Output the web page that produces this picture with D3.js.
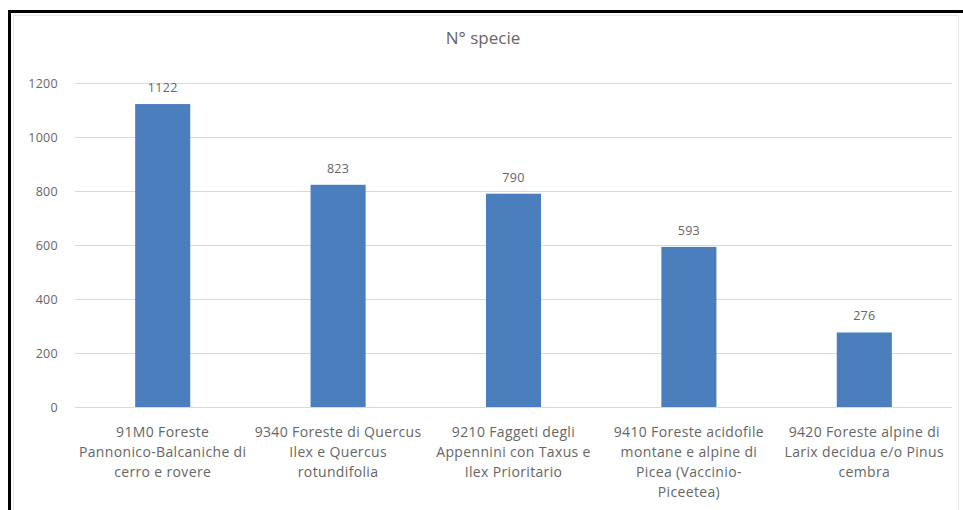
<!DOCTYPE html>
<html>
<head>
<meta charset="utf-8">
<script src="https://cdn.jsdelivr.net/npm/d3@7"></script>
<style>
  html, body { margin: 0; padding: 0; background: #fff; }
  svg { display: block; }
</style>
</head>
<body>
<svg id="chart" width="963" height="510"></svg>
<script>
// Habitat categories (multi-line labels)
const categories = [
  ["91M0 Foreste", "Pannonico-Balcaniche di", "cerro e rovere"],
  ["9340 Foreste di Quercus", "Ilex e Quercus", "rotundifolia"],
  ["9210 Faggeti degli", "Appennini con Taxus e", "Ilex Prioritario"],
  ["9410 Foreste acidofile", "montane e alpine di", "Picea (Vaccinio-", "Piceetea)"],
  ["9420 Foreste alpine di", "Larix decidua e/o Pinus", "cembra"]
];
const speciesCount = [1122, 823, 790, 593, 276];
const yTicks = [0, 200, 400, 600, 800, 1000, 1200];
const chartTitle = "N° specie";

const svg = d3.select("#chart");
const font = "'Open Sans', 'Noto Sans', sans-serif";
const textColor = "#666666";

// Outer frame
svg.append("rect").attr("x", 0).attr("y", 0).attr("width", 963).attr("height", 510).attr("fill", "#fff");
svg.append("rect").attr("x", 13.5).attr("y", 15.5).attr("width", 945).attr("height", 510)
  .attr("fill", "none").attr("stroke", "#e6e6e6").attr("stroke-width", 1);
svg.append("line").attr("x1", 9.5).attr("x2", 963).attr("y1", 11.5).attr("y2", 11.5)
  .attr("stroke", "#000").attr("stroke-width", 3);
svg.append("line").attr("x1", 9.5).attr("x2", 9.5).attr("y1", 10).attr("y2", 510)
  .attr("stroke", "#000").attr("stroke-width", 3);

const plot = { left: 75, right: 952, top: 83, bottom: 407 };

const x = d3.scaleBand()
  .domain(d3.range(categories.length))
  .range([plot.left, plot.right])
  .paddingInner(0.686)
  .paddingOuter(0.343);

const y = d3.scaleLinear().domain([0, 1200]).range([plot.bottom, plot.top]);

// Gridlines
svg.append("g")
  .selectAll("line")
  .data(yTicks)
  .join("line")
  .attr("x1", plot.left).attr("x2", plot.right)
  .attr("y1", d => Math.round(y(d)) + 0.5).attr("y2", d => Math.round(y(d)) + 0.5)
  .attr("stroke", "#d9d9d9").attr("stroke-width", 1);

// Y axis labels
const yAxis = d3.axisLeft(y).tickValues(yTicks).tickFormat(d3.format("d")).tickSize(0).tickPadding(0);
const yg = svg.append("g").attr("transform", `translate(${plot.left - 17},0)`).call(yAxis);
yg.select(".domain").remove();
yg.selectAll("text").attr("fill", textColor)
  .style("font-family", font).style("font-size", "12.5px").style("letter-spacing", "0.3px");

// Bars
svg.append("g")
  .selectAll("rect")
  .data(speciesCount)
  .join("rect")
  .attr("x", (d, i) => x(i))
  .attr("width", x.bandwidth())
  .attr("y", d => y(d))
  .attr("height", d => y(0) - y(d))
  .attr("fill", "#4a7ebd");

// Value labels
svg.append("g")
  .selectAll("text")
  .data(speciesCount)
  .join("text")
  .attr("x", (d, i) => x(i) + x.bandwidth() / 2)
  .attr("y", d => y(d) - 12)
  .attr("text-anchor", "middle")
  .attr("fill", textColor)
  .style("font-family", font).style("font-size", "12.5px").style("letter-spacing", "0.3px")
  .text(d => d);

// Category labels
svg.append("g")
  .selectAll("text")
  .data(categories)
  .join("text")
  .attr("x", (d, i) => x(i) + x.bandwidth() / 2)
  .attr("y", 437)
  .attr("text-anchor", "middle")
  .attr("fill", textColor)
  .style("font-family", font).style("font-size", "14px").style("letter-spacing", "0.35px")
  .selectAll("tspan")
  .data(d => d)
  .join("tspan")
  .attr("x", function () { return d3.select(this.parentNode).attr("x"); })
  .attr("dy", (d, j) => j === 0 ? 0 : 20)
  .text(d => d);

// Title
svg.append("text")
  .attr("x", 483).attr("y", 44)
  .attr("text-anchor", "middle")
  .attr("fill", textColor)
  .style("font-family", font).style("font-size", "17px")
  .text(chartTitle);
</script>
</body>
</html>
